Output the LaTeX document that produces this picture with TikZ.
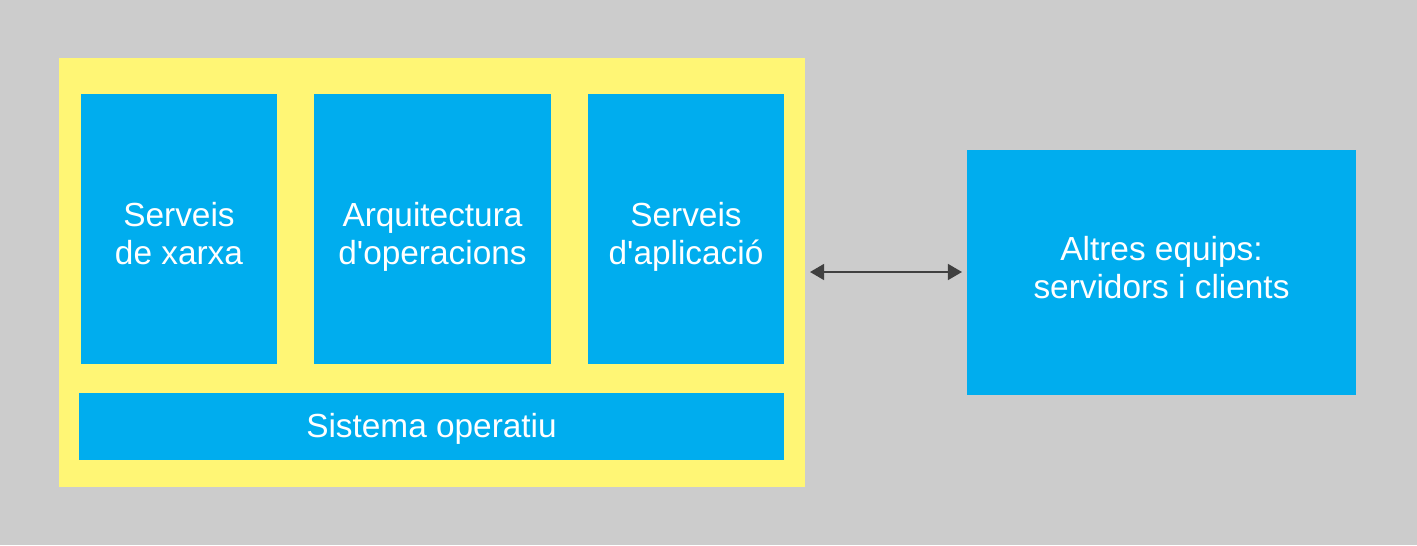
\documentclass[tikz,border=0pt]{standalone}
\usepackage{fontspec}
\setmainfont{Liberation Sans}
\usetikzlibrary{arrows.meta}
\definecolor{bg}{HTML}{CCCCCC}
\definecolor{ylw}{HTML}{FFF675}
\definecolor{blu}{HTML}{00ADEE}
\definecolor{arr}{HTML}{404040}
\newcommand{\apos}{\textquotesingle}
\begin{document}
\begin{tikzpicture}[x=0.02cm,y=-0.02cm,
  box/.style={fill=blu,draw=none,inner sep=0pt},
  lbl/.style={align=center,text=white,inner sep=0pt,anchor=base,
    font=\fontsize{19}{21.2}\selectfont},
  link/.style={draw=arr,line width=1.2pt,{Triangle[length=8pt,width=9pt]}-{Triangle[length=8pt,width=9pt]}}]
\fill[bg] (0,0) rectangle (1417,545);
\useasboundingbox (0,0) rectangle (1417,545);
\fill[ylw] (59,58) rectangle (805,487);
\node[box,minimum width=196*0.02cm,minimum height=270*0.02cm] (xarxa) at (179,229) {};
\node[box,minimum width=237*0.02cm,minimum height=270*0.02cm] (arq) at (432.5,229) {};
\node[box,minimum width=196*0.02cm,minimum height=270*0.02cm] (apl) at (686,229) {};
\node[box,minimum width=705*0.02cm,minimum height=67*0.02cm] (so) at (431.5,426.5) {};
\node[box,minimum width=389*0.02cm,minimum height=245*0.02cm] (altres) at (1161.5,272.5) {};
\node[lbl] (t1) at (xarxa.center |- 0,264) {Serveis\\de xarxa};
\node[lbl] (t2) at (arq.center |- 0,264) {Arquitectura\\d\apos operacions};
\node[lbl] (t3) at (apl.center |- 0,264) {Serveis\\d\apos aplicació};
\node[lbl] (t4) at (so.center |- 0,437) {Sistema operatiu};
\node[lbl] (t5) at (altres.center |- 0,298) {Altres equips:\\servidors i clients};
\coordinate (a) at (810,272);
\coordinate (b) at (962,272);
\draw[link] (a) -- (b);
\end{tikzpicture}
\end{document}
